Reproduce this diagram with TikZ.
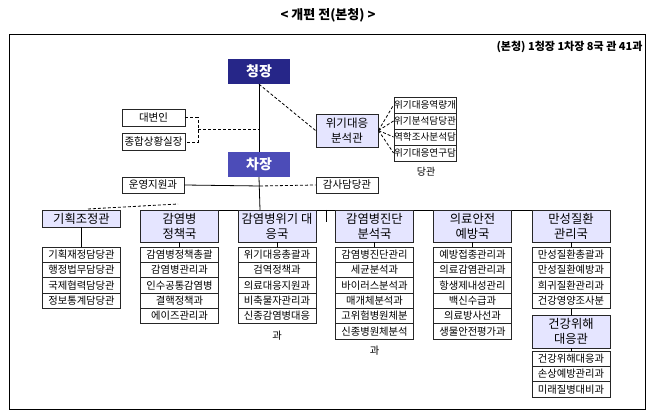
\documentclass[tikz,border=0pt]{standalone}
\usepackage{fontspec}
\setmainfont{Noto Sans CJK KR}
\begin{document}
\begin{tikzpicture}[x=1pt,y=-1pt,
  box/.style={draw=black!85,line width=0.9pt,inner sep=0pt,align=center,font=\fontsize{10.5}{11}\selectfont},
  sub/.style={box,minimum width=78pt,minimum height=15.35pt,font=\fontsize{10.3}{10}\selectfont},
  head/.style={box,fill=blue!10!white,minimum width=78pt,minimum height=32pt,font=\fontsize{12.3}{15}\selectfont},
  top/.style={inner sep=0pt,minimum width=62pt,minimum height=25pt,text=white,font=\bfseries\fontsize{14}{14}\selectfont},
  dsh/.style={densely dashed,line width=0.8pt},
  sol/.style={line width=0.8pt}]
\useasboundingbox[fill=white] (0,0) rectangle (656,419);
\node[font=\bfseries\fontsize{13}{14}\selectfont] (title) at (328,15) {< 개편 전(본청) >};
\draw[line width=0.8pt] (9,34) rectangle (645,409);
\node[anchor=east,font=\bfseries\fontsize{11}{12}\selectfont] (cnt) at (646,47) {(본청) 1청장 1차장 8국 관 41과};
\node[top,fill=blue!45!black!85] (ch) at (259,71.5) {청장};
\node[top,fill=blue!60!black!70!white] (cj) at (259,164.5) {차장};
\draw[sol] (ch.south) -- (cj.north);
\node[box,minimum width=63pt,minimum height=17pt] (dbi) at (153.5,117.5) {대변인};
\node[box,minimum width=63pt,minimum height=17pt] (jhs) at (153.5,142) {종합상황실장};
\coordinate (jn) at (198,129);
\coordinate (jc) at (260,129);
\draw[dsh] (dbi.east) -| (jn) |- (jhs.east);
\draw[dsh] (jn) -- (jc);
\node[box,fill=blue!10!white,minimum width=62pt,minimum height=33pt,font=\fontsize{11.5}{15}\selectfont] (wg) at (347,130.5) {위기대응\\분석관};
\draw[dsh] (ch.south) -- (wg.west);
\foreach \t [count=\i] in {위기대응역량개,위기분석담당관,역학조사분석담,위기대응연구담}
  \node[sub,minimum width=62pt,minimum height=16pt,font=\fontsize{9.6}{10}\selectfont] (w\i) at (425,{97+8+(\i-1)*16}) {\t};
\foreach \i in {1,...,4} \draw[dsh] (wg.east) -- (w\i.west);
\node[font=\fontsize{10}{10}\selectfont] (dg) at (426,172) {당관};
\node[box,minimum width=62pt,minimum height=16pt] (uy) at (153,185) {운영지원과};
\node[box,minimum width=62pt,minimum height=16pt] (gs) at (347,185) {감사담당관};
\coordinate (mid) at (260,186);
\coordinate (bus) at (260,210);
\draw[sol] (uy.east) -- (mid);
\draw[dsh] (mid) -- (gs.west);
\draw[sol] (cj.south) -- (bus);
\coordinate (bl) at (178,210);
\coordinate (br) at (532,210);
\coordinate (bd) at (326,210);
\coordinate (bde) at (326,222);
\coordinate (dl) at (88,209);
\coordinate (dr) at (178,204);
\draw[sol] (bl) -- (br);
\draw[sol] (bd) -- (bde);
\draw[dsh] (dl) -- (dr);
% departments
\node[head,minimum height=17pt] (h1) at (81.5,218.5) {기획조정관};
\node[head] (h2) at (179.5,226) {감염병\\정책국};
\node[head] (h3) at (277,226) {감염병위기 대\\응국};
\node[head] (h4) at (374.5,226) {감염병진단\\분석국};
\node[head] (h5) at (472.5,226) {의료안전\\예방국};
\node[head] (h6) at (571,226) {만성질환\\관리국};
\foreach \t [count=\i] in {기획재정담당관,행정법무담당관,국제협력담당관,정보통계담당관}
  \node[sub] (a\i) at (81.5,{247+7.7+(\i-1)*15.35}) {\t};
\foreach \t [count=\i] in {감염병정책총괄,감염병관리과,인수공통감염병,결핵정책과,에이즈관리과}
  \node[sub] (b\i) at (179.5,{247+7.7+(\i-1)*15.35}) {\t};
\foreach \t [count=\i] in {위기대응총괄과,검역정책과,의료대응지원과,비축물자관리과,신종감염병대응}
  \node[sub] (c\i) at (277,{247+7.7+(\i-1)*15.35}) {\t};
\foreach \t [count=\i] in {감염병진단관리,세균분석과,바이러스분석과,매개체분석과,고위험병원체분,신종병원체분석}
  \node[sub] (d\i) at (374.5,{247+7.7+(\i-1)*15.35}) {\t};
\foreach \t [count=\i] in {예방접종관리과,의료감염관리과,항생제내성관리,백신수급과,의료방사선과,생물안전평가과}
  \node[sub] (e\i) at (472.5,{247+7.7+(\i-1)*15.35}) {\t};
\foreach \t [count=\i] in {만성질환총괄과,만성질환예방과,희귀질환관리과,건강영양조사분}
  \node[sub] (f\i) at (571,{247+7.7+(\i-1)*15.35}) {\t};
\node[head,minimum height=33pt] (h7) at (571,331.5) {건강위해\\대응관};
\foreach \t [count=\i] in {건강위해대응과,손상예방관리과,미래질병대비과}
  \node[sub] (g\i) at (571,{351+7.7+(\i-1)*15.35}) {\t};
\node[font=\fontsize{10.3}{10}\selectfont] (cx) at (277,336) {과};
\node[font=\fontsize{10.3}{10}\selectfont] (dx) at (374.5,351) {과};
\foreach \h/\s in {h1/a1,h2/b1,h3/c1,h4/d1,h5/e1,h6/f1,f4/h7,h7/g1}
  \draw[sol] (\h.south) -- (\s.north);
\end{tikzpicture}
\end{document}
